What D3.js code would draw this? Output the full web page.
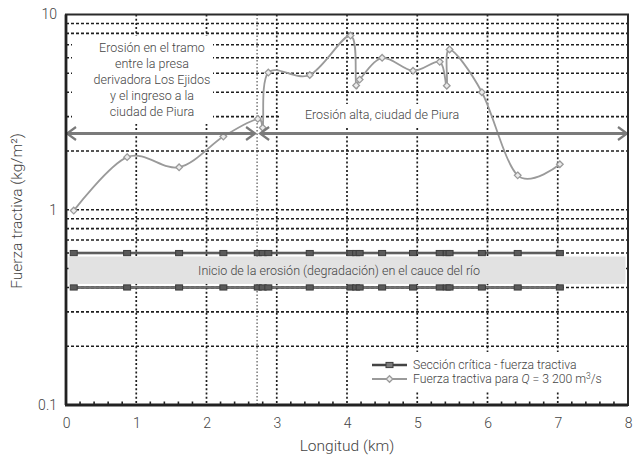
<!DOCTYPE html>
<html>
<head>
<meta charset="utf-8">
<script src="https://cdn.jsdelivr.net/npm/d3@7"></script>
<style>
  html, body { margin: 0; padding: 0; background: #fff; }
  svg { display: block; }
  text { font-family: Roboto, "Liberation Sans", Arial, sans-serif; font-weight: 300; fill: #444; }
</style>
</head>
<body>
<svg id="chart" width="633" height="463"></svg>
<script>
// Distance along the river (km) of each surveyed section
const longitudKm = [0.11, 0.87, 1.61, 2.24, 2.73, 2.80, 2.88, 3.47, 4.05, 4.13, 4.18,
                    4.50, 4.94, 5.32, 5.42, 5.46, 5.92, 6.43, 7.03];
// Tractive force for Q = 3 200 m3/s (kg/m2)
const fuerzaTractiva = [0.99, 1.86, 1.65, 2.37, 2.92, 2.63, 5.04, 4.90, 7.80, 4.33, 4.64,
                        6.00, 5.15, 5.72, 4.32, 6.62, 4.00, 1.50, 1.71];
// Critical tractive force limits (kg/m2)
const criticaSuperior = [0.6, 0.6, 0.6, 0.6, 0.6, 0.6, 0.6, 0.6, 0.6, 0.6, 0.6,
                         0.6, 0.6, 0.6, 0.6, 0.6, 0.6, 0.6, 0.6];
const criticaInferior = [0.4, 0.4, 0.4, 0.4, 0.4, 0.4, 0.4, 0.4, 0.4, 0.4, 0.4,
                         0.4, 0.4, 0.4, 0.4, 0.4, 0.4, 0.4, 0.4];
// Axis ticks
const xTicks = [0, 1, 2, 3, 4, 5, 6, 7, 8];
const yTickLabels = [0.1, 1, 10];
const yGridValues = [0.2, 0.3, 0.4, 0.5, 0.6, 0.7, 0.8, 0.9, 1, 2, 3, 4, 5, 6, 7, 8, 9];
const xMinorTicks = d3.range(0.2, 8, 0.2).filter(v => Math.abs(v - Math.round(v)) > 1e-6);
const xGridValues = [1, 2, 3, 4, 5, 6, 7];
const limiteTramo = 2.72;   // km where the city reach begins

const svg = d3.select("#chart");
const x = d3.scaleLinear().domain([0, 8]).range([66, 628]);
const y = d3.scaleLog().domain([0.1, 10]).range([405, 14.5]);

const g = svg.append("g");

// Grid
g.selectAll("line.hgrid").data(yGridValues).join("line")
  .attr("x1", x(0)).attr("x2", x(8))
  .attr("y1", d => y(d)).attr("y2", d => y(d))
  .attr("stroke", "#1e1e1e").attr("stroke-width", 1.6).attr("stroke-dasharray", "3,2");
g.selectAll("line.vgrid").data(xGridValues).join("line")
  .attr("x1", d => x(d)).attr("x2", d => x(d))
  .attr("y1", y(10)).attr("y2", y(0.1))
  .attr("stroke", "#1e1e1e").attr("stroke-width", 1.7).attr("stroke-dasharray", "2,2.2");
g.append("line")
  .attr("x1", x(limiteTramo)).attr("x2", x(limiteTramo))
  .attr("y1", y(10)).attr("y2", y(0.1))
  .attr("stroke", "#555").attr("stroke-width", 1.2).attr("stroke-dasharray", "1.5,2");

// White panels behind annotation text
g.append("rect").attr("x", 72).attr("y", 36).attr("width", 141).attr("height", 88).attr("fill", "#fff");
g.append("rect").attr("x", 281).attr("y", 104).attr("width", 206).attr("height", 22).attr("fill", "#fff");

// Erosion-start band between the two critical limits
g.append("rect")
  .attr("x", x(0) + 2.5).attr("width", x(8) - x(0) - 5)
  .attr("y", y(0.6) + 3.5).attr("height", y(0.4) - y(0.6) - 7)
  .attr("fill", "#e2e2e2");
g.append("text").attr("x", 339).attr("y", 275).attr("text-anchor", "middle")
  .attr("font-size", 12.5).text("Inicio de la erosión (degradación) en el cauce del río");

// Critical tractive force series
function criticalSeries(values) {
  const pts = longitudKm.map((k, i) => [x(k), y(values[i])]);
  const line = d3.line();
  g.append("path").attr("d", line(pts)).attr("fill", "none")
    .attr("stroke", "#444").attr("stroke-width", 2.4);
  g.append("path").attr("d", line(pts)).attr("fill", "none")
    .attr("stroke", "#9a9a9a").attr("stroke-width", 0.6);
  g.selectAll(null).data(pts).join("rect")
    .attr("x", d => d[0] - 3.5).attr("y", d => d[1] - 2.6)
    .attr("width", 7).attr("height", 5.2)
    .attr("fill", "#5a5a5a").attr("stroke", "#3c3c3c").attr("stroke-width", 1);
}
criticalSeries(criticaSuperior);
criticalSeries(criticaInferior);

// Tractive force curve
const fPts = longitudKm.map((k, i) => [x(k), y(fuerzaTractiva[i])]);
g.append("path")
  .attr("d", d3.line().curve(d3.curveCardinal.tension(0))(fPts))
  .attr("fill", "none").attr("stroke", "#9a9a9a").attr("stroke-width", 1.8);
const diamond = d3.symbol().type(d3.symbolDiamond2).size(28);
g.selectAll(null).data(fPts).join("path")
  .attr("d", diamond).attr("transform", d => `translate(${d[0]},${d[1]})`)
  .attr("fill", "#ececec").attr("stroke", "#9a9a9a").attr("stroke-width", 1.3);

// Reach arrows
const arrowY = 133.5;
function arrow(x1, x2, headLeft, headRight) {
  g.append("line").attr("x1", x1).attr("x2", x2).attr("y1", arrowY).attr("y2", arrowY)
    .attr("stroke", "#7a7a7a").attr("stroke-width", 3.2);
  const head = (tip, dir) => g.append("path")
    .attr("d", `M${tip - dir * 9},${arrowY - 6.5}L${tip},${arrowY}L${tip - dir * 9},${arrowY + 6.5}`)
    .attr("fill", "none").attr("stroke", "#7a7a7a").attr("stroke-width", 2.2);
  if (headLeft) head(x1, -1);
  if (headRight) head(x2, 1);
}
arrow(x(0) + 1, x(limiteTramo) - 2, true, true);
arrow(x(limiteTramo) + 3, x(8) - 1, true, true);

// Annotation text
const leftLines = ["Erosión en el tramo", "entre la presa", "derivadora Los Ejidos",
                   "y el ingreso a la", "ciudad de Piura"];
g.selectAll(null).data(leftLines).join("text")
  .attr("x", 152).attr("y", (d, i) => 52 + i * 16)
  .attr("text-anchor", "middle").attr("font-size", 12.5).text(d => d);
g.append("text").attr("x", 382).attr("y", 119).attr("text-anchor", "middle")
  .attr("font-size", 12.5).text("Erosión alta, ciudad de Piura");

// Frame and ticks
g.append("rect").attr("x", x(0)).attr("y", y(10))
  .attr("width", x(8) - x(0)).attr("height", y(0.1) - y(10))
  .attr("fill", "none").attr("stroke", "#2a2a2a").attr("stroke-width", 2);
g.append("line").attr("x1", x(0) - 1).attr("x2", x(8)).attr("y1", y(0.1)).attr("y2", y(0.1))
  .attr("stroke", "#222").attr("stroke-width", 2.8);
g.append("line").attr("x1", x(0)).attr("x2", x(0)).attr("y1", y(10)).attr("y2", y(0.1))
  .attr("stroke", "#222").attr("stroke-width", 2.8);
g.selectAll(null).data(xMinorTicks).join("line")
  .attr("x1", d => x(d)).attr("x2", d => x(d))
  .attr("y1", y(0.1)).attr("y2", y(0.1) - 3.5)
  .attr("stroke", "#222").attr("stroke-width", 1.6);

const xAxis = d3.axisBottom(x).tickValues(xTicks).tickSize(0).tickPadding(0)
  .tickFormat(d3.format("d"));
const xa = g.append("g").attr("transform", `translate(0,${y(0.1) + 13})`).call(xAxis);
xa.select(".domain").remove();
xa.selectAll("text").attr("font-size", 14).attr("font-family", null).attr("dy", "0.71em");

const yAxis = d3.axisLeft(y).tickValues(yTickLabels).tickSize(0).tickPadding(0)
  .tickFormat(d => String(d));
const ya = g.append("g").attr("transform", `translate(${x(0) - 9},0)`).call(yAxis);
ya.select(".domain").remove();
ya.selectAll("text").attr("font-size", 14).attr("font-family", null);
svg.selectAll(".tick text").style("fill", "#444");

// Axis titles
g.append("text").attr("x", 347).attr("y", 451).attr("text-anchor", "middle")
  .attr("font-size", 15.5).text("Longitud (km)");
g.append("text").attr("transform", "translate(22,211) rotate(-90)").attr("text-anchor", "middle")
  .attr("font-size", 15.5).text("Fuerza tractiva (kg/m²)");

// Legend
const lg = g.append("g");
lg.append("rect").attr("x", 366).attr("y", 352).attr("width", 260).attr("height", 40).attr("fill", "#fff");
const rowA = 365, rowB = 379;
lg.append("line").attr("x1", 372).attr("x2", 407).attr("y1", rowA).attr("y2", rowA)
  .attr("stroke", "#444").attr("stroke-width", 2.4);
lg.append("rect").attr("x", 386).attr("y", rowA - 2.6).attr("width", 7).attr("height", 5.2)
  .attr("fill", "#7a7a7a").attr("stroke", "#3c3c3c").attr("stroke-width", 1);
lg.append("line").attr("x1", 372).attr("x2", 407).attr("y1", rowB).attr("y2", rowB)
  .attr("stroke", "#9a9a9a").attr("stroke-width", 1.8);
lg.append("path").attr("d", diamond).attr("transform", `translate(389.5,${rowB})`)
  .attr("fill", "#ececec").attr("stroke", "#9a9a9a").attr("stroke-width", 1.3);

lg.append("text").attr("x", 413).attr("y", rowA + 4.2).attr("font-size", 12.2)
  .text("Sección crítica - fuerza tractiva");
const t2 = lg.append("text").attr("x", 413).attr("y", rowB + 4.2).attr("font-size", 12.2);
t2.append("tspan").text("Fuerza tractiva para ");
t2.append("tspan").attr("font-style", "italic").text("Q");
t2.append("tspan").text(" = 3 200 m");
t2.append("tspan").attr("font-size", 8.5).attr("dy", -4.5).text("3");
t2.append("tspan").attr("dy", 4.5).text("/s");
</script>
</body>
</html>
